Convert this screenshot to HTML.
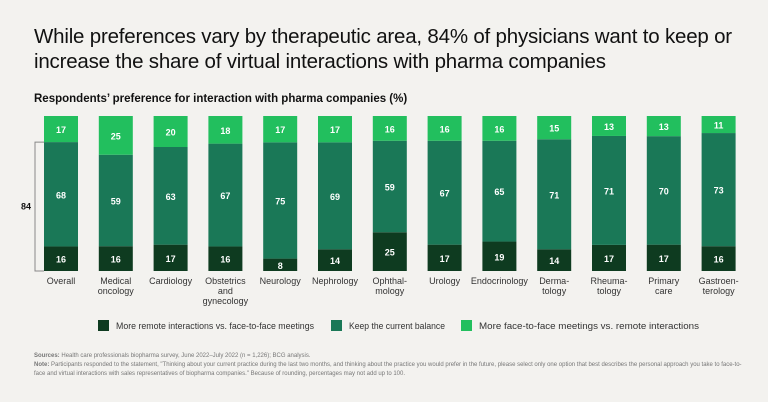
<!DOCTYPE html>
<html><head><meta charset="utf-8"><style>
body{margin:0;width:768px;height:402px;background:#f3f2ef;font-family:"Liberation Sans",sans-serif;overflow:hidden;position:relative}
#title{position:absolute;left:34px;top:24px;font-size:20.5px;line-height:25px;color:#111;letter-spacing:-0.2px}
#sub{position:absolute;left:34px;top:93px;font-size:11.5px;font-weight:bold;color:#111}
#foot{position:absolute;left:34px;top:352px;width:710px;font-size:6px;line-height:9px;color:#777}
svg{position:absolute;left:0;top:0}
</style></head><body>
<div id="title">While preferences vary by therapeutic area, 84% of physicians want to keep or<br>increase the share of virtual interactions with pharma companies</div>
<div id="sub">Respondents’ preference for interaction with pharma companies (%)</div>
<svg id="chart" width="768" height="402"></svg>
<div id="foot"><b>Sources:</b> Health care professionals biopharma survey, June 2022–July 2022 (n = 1,226); BCG analysis.<br><b>Note:</b> Participants responded to the statement, "Thinking about your current practice during the last two months, and thinking about the practice you would prefer in the future, please select only one option that best describes the personal approach you take to face-to-face and virtual interactions with sales representatives of biopharma companies." Because of rounding, percentages may not add up to 100.</div>
<script>
const categories=[["Overall"],["Medical","oncology"],["Cardiology"],["Obstetrics","and","gynecology"],["Neurology"],["Nephrology"],["Ophthal-","mology"],["Urology"],["Endocrinology"],["Derma-","tology"],["Rheuma-","tology"],["Primary","care"],["Gastroen-","terology"]];
const remote=[16,16,17,16,8,14,25,17,19,14,17,17,16];
const keep=[68,59,63,67,75,69,59,67,65,71,71,70,73];
const f2f=[17,25,20,18,17,17,16,16,16,15,13,13,11];
const bracketLabel="84";
const colors=["#0e3b20","#1a7857","#22bf5e"];
const legendLabels=["More remote interactions vs. face-to-face meetings","Keep the current balance","More face-to-face meetings vs. remote interactions"];
const NS="http://www.w3.org/2000/svg";
const svg=document.getElementById('chart');
const top0=116,bot0=271,x0=44,pitch=54.8,bw=34;
function xPos(i){return x0+i*pitch;}
function mk(t,a){const e=document.createElementNS(NS,t);for(const k in a)e.setAttribute(k,a[k]);svg.appendChild(e);return e;}
categories.forEach((c,i)=>{
  const vals=[remote[i],keep[i],f2f[i]];
  const sum=vals.reduce((a,b)=>a+b,0);
  const s=(bot0-top0)/sum;
  let y=bot0;
  vals.forEach((v,j)=>{
    const h=v*s;y-=h;
    const r=mk('rect',{x:xPos(i),y:y,width:bw,height:h,fill:colors[j]});
    
    
    const t=mk('text',{x:xPos(i)+bw/2,y:y+h/2+4,'text-anchor':'middle','font-size':'9','font-weight':'bold',fill:'#fff','font-family':'Liberation Sans'});
    t.textContent=v;
    
    
  });
  c.forEach((ln,k)=>{
    const t=mk('text',{x:xPos(i)+bw/2,y:284+k*10,'text-anchor':'middle','font-size':'9',fill:'#333','font-family':'Liberation Sans'});
    t.textContent=ln;
    
    
  });
});
const s0=(bot0-top0)/(remote[0]+keep[0]+f2f[0]);
const by=bot0-(remote[0]+keep[0])*s0;
const br=mk('path',{d:`M44 ${by} H35 V${bot0} H44`,fill:'none',stroke:'#888','stroke-width':'1'});


const bt=mk('text',{x:26,y:(by+bot0)/2+3,'text-anchor':'middle','font-size':'9','font-weight':'bold',fill:'#111','font-family':'Liberation Sans'});
bt.textContent=bracketLabel;


const lx=[98,331,461];
const lw=['198','96','220'];
legendLabels.forEach((l,j)=>{
  const r=mk('rect',{x:lx[j],y:320,width:11,height:11,fill:colors[j]});
  
  
  const t=mk('text',{x:lx[j]+18,y:329,'font-size':'9','font-family':'Liberation Sans',fill:'#333','textLength':lw[j],'lengthAdjust':'spacingAndGlyphs'});
  t.textContent=l;
  
  
});
</script>
</body></html>
